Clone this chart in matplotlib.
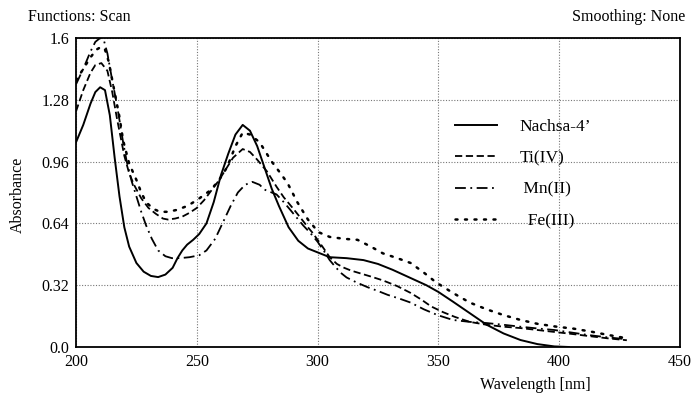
import matplotlib
matplotlib.use("Agg")
import matplotlib.pyplot as plt

plt.rcParams['font.family'] = ['Liberation Serif', 'DejaVu Serif']

# Nachsa-4' (solid)
wl_nachsa = [200, 203, 206, 208, 210, 212, 214, 216, 218, 220, 222, 225, 228, 231, 234, 237,
             240, 242, 244, 246, 248.5, 251, 254, 257, 260, 263, 266, 269, 272, 275, 278,
             281, 284, 288, 292, 296, 300, 305, 312, 319, 325, 331, 338, 345, 350, 356,
             363, 370, 377, 384, 391, 398, 404]
ab_nachsa = [1.06, 1.15, 1.26, 1.32, 1.345, 1.33, 1.20, 0.98, 0.78, 0.62, 0.52, 0.435, 0.39,
             0.368, 0.362, 0.375, 0.41, 0.46, 0.50, 0.53, 0.555, 0.585, 0.64, 0.75, 0.89, 1.00,
             1.10, 1.15, 1.12, 1.04, 0.93, 0.82, 0.73, 0.62, 0.55, 0.51, 0.49, 0.465, 0.46,
             0.45, 0.43, 0.40, 0.36, 0.32, 0.285, 0.235, 0.175, 0.115, 0.07, 0.036, 0.015,
             0.003, 0.0]

# Ti(IV) (dashed)
wl_ti = [200, 203, 206, 208, 210.5, 213, 215, 217, 220, 222, 224, 227, 230, 233, 236, 238,
         241, 244, 247, 250, 253, 256, 259, 262, 265, 269, 272, 275, 279, 283, 286, 290,
         293.5, 296, 298, 300, 302, 305, 308, 311, 314, 318, 322, 327, 333, 338.5, 343,
         347, 352, 357, 363, 370, 377, 384, 391, 398, 405, 412, 420, 428]
ab_ti = [1.22, 1.33, 1.42, 1.46, 1.47, 1.43, 1.32, 1.18, 0.99, 0.90, 0.84, 0.77, 0.72, 0.69,
         0.665, 0.66, 0.665, 0.675, 0.695, 0.72, 0.76, 0.81, 0.86, 0.92, 0.98, 1.025, 1.01,
         0.97, 0.91, 0.83, 0.775, 0.715, 0.66, 0.62, 0.59, 0.555, 0.52, 0.465, 0.43, 0.41,
         0.395, 0.38, 0.365, 0.345, 0.315, 0.28, 0.245, 0.21, 0.18, 0.155, 0.13, 0.115,
         0.105, 0.098, 0.088, 0.078, 0.068, 0.057, 0.045, 0.035]

# Mn(II) (dash-dot)
wl_mn = [200, 203, 206, 208, 210, 211.5, 213, 215, 217, 219.5, 221, 223, 225, 227, 229,
         231.4, 234, 237, 239.7, 243, 247, 251, 254, 257.6, 261, 264, 267, 270, 273, 276,
         278, 281, 283, 286, 288.7, 291, 294, 297, 300, 303, 305, 307, 309.5, 312, 316,
         320.6, 325, 329, 334, 338.5, 344, 349.7, 356, 363, 370, 377, 384, 391, 398, 405,
         412, 420, 428]
ab_mn = [1.36, 1.44, 1.53, 1.58, 1.60, 1.59, 1.52, 1.38, 1.25, 1.06, 0.96, 0.86, 0.78, 0.70,
         0.63, 0.56, 0.50, 0.47, 0.46, 0.46, 0.465, 0.475, 0.50, 0.56, 0.65, 0.73, 0.80,
         0.84, 0.855, 0.84, 0.815, 0.80, 0.79, 0.75, 0.71, 0.675, 0.63, 0.59, 0.545, 0.49,
         0.45, 0.42, 0.385, 0.36, 0.335, 0.31, 0.29, 0.27, 0.25, 0.23, 0.195, 0.165, 0.14,
         0.13, 0.124, 0.115, 0.105, 0.096, 0.088, 0.075, 0.062, 0.05, 0.04]

# Fe(III) (dotted)
wl_fe = [200, 203, 206, 208.5, 210.5, 212, 213.5, 215.5, 218, 219.5, 222, 225, 227, 229,
         232, 234.8, 238, 241.8, 246, 250, 255.5, 259, 262.5, 266, 269, 272, 276, 281, 284,
         287.5, 291.6, 296, 300.3, 305, 311, 316.5, 322, 327, 333, 338.5, 344, 349, 356,
         363, 370, 377, 384, 391, 399, 406, 413, 420, 428]
ab_fe = [1.38, 1.44, 1.50, 1.54, 1.555, 1.54, 1.48, 1.35, 1.19, 1.07, 0.95, 0.865, 0.80,
         0.75, 0.715, 0.70, 0.70, 0.71, 0.73, 0.76, 0.81, 0.86, 0.93, 1.04, 1.11, 1.10, 1.06,
         0.96, 0.91, 0.85, 0.75, 0.66, 0.595, 0.57, 0.56, 0.555, 0.52, 0.485, 0.46, 0.435,
         0.385, 0.335, 0.28, 0.23, 0.195, 0.165, 0.14, 0.12, 0.105, 0.095, 0.08, 0.063,
         0.045]

labels = ["Nachsa-4\u2019", "Ti(IV)", " Mn(II)", "  Fe(III)"]
x_ticks = [200, 250, 300, 350, 400, 450]
y_ticks = [0.0, 0.32, 0.64, 0.96, 1.28, 1.6]
y_tick_labels = ["0.0", "0.32", "0.64", "0.96", "1.28", "1.6"]

fig = plt.figure(figsize=(6.93, 3.94), dpi=100)
ax = fig.add_axes([76 / 693, 47 / 394, 604 / 693, 309 / 394])

ax.plot(wl_nachsa, ab_nachsa, color='black', lw=1.4, linestyle='-', label=labels[0])
ax.plot(wl_ti, ab_ti, color='black', lw=1.3, linestyle=(0, (4, 2)), label=labels[1])
ax.plot(wl_mn, ab_mn, color='black', lw=1.3, linestyle=(0, (6, 2.5, 1, 2.5)), label=labels[2])
ax.plot(wl_fe, ab_fe, color='black', lw=1.8, linestyle=(0, (0.8, 3)),
        dash_capstyle='round', label=labels[3])

ax.set_xlim(200, 450)
ax.set_ylim(0, 1.6)
ax.set_xticks(x_ticks)
ax.set_yticks(y_ticks)
ax.set_yticklabels(y_tick_labels)
ax.tick_params(length=0, labelsize=11.5, pad=5)
ax.grid(True, color='#777777', lw=0.8, linestyle=(0, (1, 1.5)))
for s in ax.spines.values():
    s.set_linewidth(1.3)
    s.set_color('black')

leg = ax.legend(loc='upper left', bbox_to_anchor=(455 / 693, 1 - 119 / 394),
                bbox_transform=fig.transFigure, frameon=False, fontsize=12.5,
                handlelength=2.4, handletextpad=1.3, labelspacing=0.87,
                borderpad=0, borderaxespad=0)

fig.text(28 / 693, 1 - 17 / 394, "Functions: Scan", fontsize=11.5, ha='left', va='center')
fig.text(685 / 693, 1 - 17 / 394, "Smoothing: None", fontsize=11.5, ha='right', va='center')
fig.text(18 / 693, 1 - 195 / 394, "Absorbance", fontsize=11.5, rotation=90,
         ha='center', va='center')
fig.text(535 / 693, 1 - 385 / 394, "Wavelength [nm]", fontsize=11.5, ha='center', va='center')

fig.savefig("out.png", dpi=100)
